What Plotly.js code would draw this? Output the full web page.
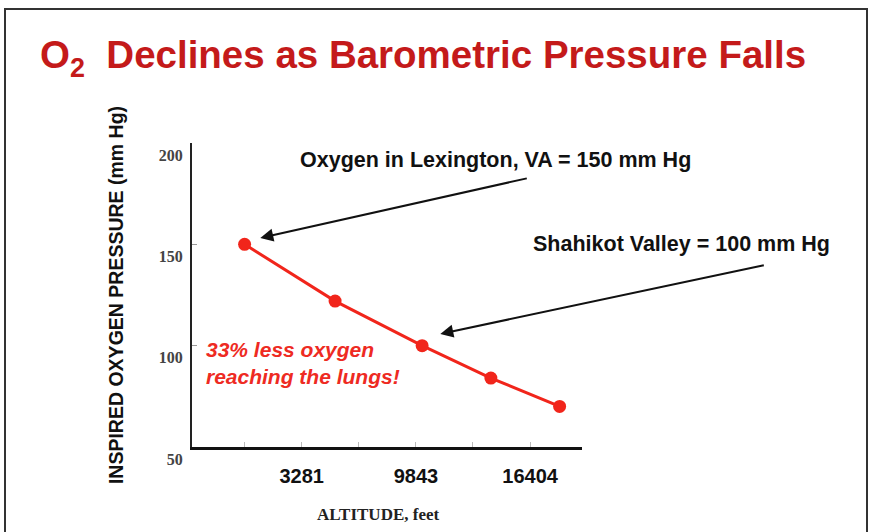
<!DOCTYPE html>
<html>
<head>
<meta charset="utf-8">
<script src="https://cdn.plot.ly/plotly-3.0.1.min.js"></script>
<style>
  html, body { margin: 0; padding: 0; background: #ffffff; }
  #wrap { position: relative; width: 869px; height: 532px; overflow: hidden; }
  #chart { position: absolute; left: 0; top: 0; width: 869px; height: 532px; }
  #frame { position: absolute; left: 4px; top: 8px; width: 860px; height: 540px;
           border: 2px solid #333; pointer-events: none; }
</style>
</head>
<body>
<div id="wrap">
  <div id="chart"></div>
  <div id="frame"></div>
</div>
<script>
// ---- data ----
const altitudeFeet = [0, 5200, 10200, 14150, 18100];
const inspiredO2 = [150, 122, 100, 84, 70];
const xTickVals = [0, 3281, 6562, 9843, 13123, 16404];
const xTickText = ['', '3281', '', '9843', '', '16404'];
const yTickVals = [50, 100, 150, 200];
const yTickText = ['50', '100', '150', '200'];
const titleText = 'O<sub>2</sub>  Declines as Barometric Pressure Falls';
const yTitle = 'INSPIRED OXYGEN PRESSURE (mm Hg)';
const xTitle = 'ALTITUDE, feet';
const noteLexington = 'Oxygen in Lexington, VA = 150 mm Hg';
const noteShahikot = 'Shahikot Valley = 100 mm Hg';
const noteLess = '33% less oxygen<br>reaching the lungs!';

const red = '#f1251b';

const trace = {
  x: altitudeFeet,
  y: inspiredO2,
  type: 'scatter',
  mode: 'lines+markers',
  line: { color: red, width: 3 },
  marker: { color: red, size: 13 },
  cliponaxis: false,
  hoverinfo: 'skip'
};

const L = 192, W = 390, T = 143, H = 304;
const px = v => (v - L) / W;
const py = v => 1 - (v - T) / H;

const layout = {
  width: 869,
  height: 532,
  paper_bgcolor: '#ffffff',
  plot_bgcolor: '#ffffff',
  showlegend: false,
  margin: { l: L, r: 869 - L - W, t: T, b: 532 - T - H },
  title: {
    text: titleText,
    font: { family: 'Liberation Sans, Arial', size: 38.5, color: '#c41a1a', weight: 'bold' },
    xref: 'container', yref: 'container',
    x: 40 / 869, xanchor: 'left',
    y: 1 - 55 / 532, yanchor: 'middle'
  },
  xaxis: {
    range: [-3022, 19387],
    tickmode: 'array',
    tickvals: xTickVals,
    ticktext: xTickText,
    ticks: 'inside',
    ticklen: 5,
    tickcolor: '#bbbbbb',
    showgrid: false,
    zeroline: false,
    showline: true,
    linecolor: '#111111',
    linewidth: 3,
    tickfont: { family: 'Liberation Sans, Arial', size: 20, color: '#111111', weight: 'bold' },
    ticklabelstandoff: 9
  },
  yaxis: {
    range: [50, 200],
    tickmode: 'array',
    tickvals: yTickVals,
    ticktext: yTickText,
    ticks: 'inside',
    ticklen: 5,
    tickcolor: '#999999',
    showgrid: false,
    zeroline: false,
    showline: true,
    linecolor: '#222222',
    linewidth: 2,
    tickfont: { family: 'Liberation Serif, Times New Roman', size: 16, color: '#444444', weight: 'bold' },
    ticklabelshift: 12,
    ticklabelstandoff: 4,
    title: {
      text: yTitle,
      font: { family: 'Liberation Sans, Arial', size: 19.5, color: '#111111', weight: 'bold' },
      standoff: 30
    }
  },
  annotations: [
    {
      x: 902, y: 153.1, xref: 'x', yref: 'y',
      ax: 268, ay: -60, axref: 'pixel', ayref: 'pixel',
      showarrow: true, arrowhead: 2, arrowsize: 1.3, arrowwidth: 2, arrowcolor: '#111111',
      text: '', standoff: 0
    },
    {
      x: 11245, y: 105.8, xref: 'x', yref: 'y',
      ax: 325, ay: -69, axref: 'pixel', ayref: 'pixel',
      showarrow: true, arrowhead: 2, arrowsize: 1.3, arrowwidth: 2, arrowcolor: '#111111',
      text: '', standoff: 0
    },
    {
      x: px(298), y: py(160), xref: 'paper', yref: 'paper',
      showarrow: false, xanchor: 'left', yanchor: 'middle',
      text: noteLexington,
      font: { family: 'Liberation Sans, Arial', size: 21.5, color: '#111111', weight: 'bold' }
    },
    {
      x: px(531), y: py(244), xref: 'paper', yref: 'paper',
      showarrow: false, xanchor: 'left', yanchor: 'middle',
      text: noteShahikot,
      font: { family: 'Liberation Sans, Arial', size: 21.5, color: '#111111', weight: 'bold' }
    },
    {
      x: px(204), y: py(363), xref: 'paper', yref: 'paper',
      showarrow: false, xanchor: 'left', yanchor: 'middle', align: 'left',
      text: noteLess,
      font: { family: 'Liberation Sans, Arial', size: 21, color: '#ee2a22', weight: 'bold', style: 'italic' }
    },
    {
      x: px(378), y: py(514), xref: 'paper', yref: 'paper',
      showarrow: false, xanchor: 'center', yanchor: 'middle',
      text: xTitle,
      font: { family: 'Liberation Serif, Times New Roman', size: 17, color: '#222222', weight: 'bold' }
    }
  ]
};

Plotly.newPlot('chart', [trace], layout, { displayModeBar: false, staticPlot: true });
</script>
</body>
</html>
